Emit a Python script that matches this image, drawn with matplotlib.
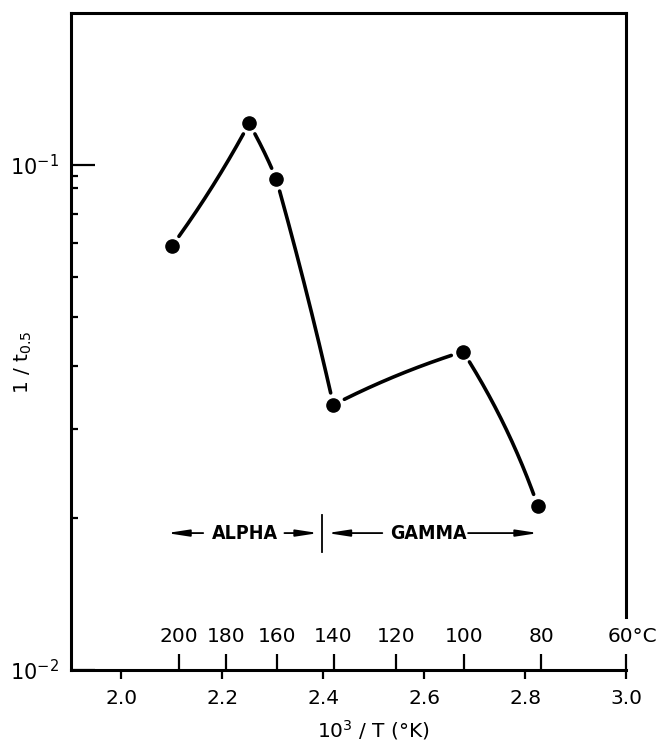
import numpy as np
import matplotlib
matplotlib.use("Agg")
import matplotlib.pyplot as plt

# ---------------- data ----------------
inv_T = [2.10, 2.253, 2.307, 2.420, 2.677, 2.825]          # 10^3 / T (1/K)
rate = [0.0691, 0.1209, 0.0937, 0.0335, 0.0427, 0.02115]   # 1 / t0.5
x_ticks = [2.0, 2.2, 2.4, 2.6, 2.8, 3.0]
x_ticklabels = ["2.0", "2.2", "2.4", "2.6", "2.8", "3.0"]
celsius = [200, 180, 160, 140, 120, 100, 80, 60]
celsius_labels = ["200", "180", "160", "140", "120", "100", "80", "60°C"]
y_major = [0.01, 0.1]
y_major_labels = [r"$10^{-2}$", r"$10^{-1}$"]
y_minor = [0.02, 0.03, 0.04, 0.05, 0.06, 0.07, 0.08, 0.09, 0.095]
regions = ["ALPHA", "GAMMA"]
region_bounds = [(2.09, 2.398), (2.398, 2.826)]

# ---------------- figure ----------------
W, H = 664, 745
fig = plt.figure(figsize=(W / 100, H / 100), dpi=100)
ax = fig.add_axes([71 / W, 75 / H, 555 / W, 657 / H])
ax.set_yscale("log")
ax.set_xlim(1.9, 3.0)
ax.set_ylim(0.01, 0.2)

FS = 14.5
for s in ax.spines.values():
    s.set_linewidth(2.2)
ax.spines["right"].set_bounds(0.01272, 0.2)

ax.set_xticks(x_ticks)
ax.set_xticklabels(x_ticklabels, fontsize=FS)
ax.tick_params(axis="x", direction="out", length=6.5, width=1.6, pad=7)
ax.set_yticks(y_major)
ax.set_yticklabels(y_major_labels, fontsize=15)
ax.set_yticks(y_minor, minor=True)
ax.yaxis.set_minor_formatter(matplotlib.ticker.NullFormatter())
ax.tick_params(axis="y", which="major", direction="in", length=17, width=1.6, pad=9)
ax.tick_params(axis="y", which="minor", direction="in", length=5, width=1.6)
ax.tick_params(axis="x", which="minor", bottom=False)

# Celsius scale along the bottom axis
xt = ax.get_xaxis_transform()
for c, lab in zip(celsius, celsius_labels):
    xc = min(1000.0 / (c + 273.15), 3.0)
    ax.plot([xc, xc], [0, 16 / 657], transform=xt, color="k", lw=1.6,
            clip_on=False, solid_capstyle="butt")
    ax.text(xc + (0.012 if c == 60 else 0.0), 33 / 657, lab, transform=xt,
            ha="center", va="center", fontsize=FS)

# ---------------- curves ----------------
bows = [-2.5, 1, 1.5, 3, 5]   # pixel bulge of each segment
gap = 12.0
fig.canvas.draw()
tr = ax.transData
pts = tr.transform(np.column_stack([inv_T, rate]))
for i in range(len(pts) - 1):
    p0, p2 = pts[i], pts[i + 1]
    d = p2 - p0
    L = np.hypot(*d)
    n = np.array([-d[1], d[0]]) / L
    p1 = (p0 + p2) / 2 + n * bows[i] * 2
    t = np.linspace(0, 1, 400)[:, None]
    curve = (1 - t) ** 2 * p0 + 2 * (1 - t) * t * p1 + t ** 2 * p2
    keep = (np.hypot(*(curve - p0).T) > gap) & (np.hypot(*(curve - p2).T) > gap)
    c = tr.inverted().transform(curve[keep])
    ax.plot(c[:, 0], c[:, 1], color="k", lw=2.6, solid_capstyle="round")

ax.plot(inv_T, rate, "o", color="k", ms=9.5, ls="none")

# ---------------- region arrows ----------------
ya = 0.01867
text_mid = [2.244, 2.608]
text_left = [0.082, 0.091]
text_right = [0.079, 0.079]
ap = dict(arrowstyle="-|>,head_length=1.3,head_width=0.2", lw=1.3,
          color="k", shrinkA=0, shrinkB=0)
for k, (name, (a, b)) in enumerate(zip(regions, region_bounds)):
    mid = text_mid[k]
    ax.text(mid, ya, name, ha="center", va="center", fontsize=14,
            fontweight="bold", fontstretch="condensed")
    ax.annotate("", xy=(a + (0.0 if k == 0 else 0.01), ya),
                xytext=(mid - text_left[k], ya), arrowprops=ap)
    ax.annotate("", xy=(b - (0.008 if k == 0 else 0.0), ya),
                xytext=(mid + text_right[k], ya), arrowprops=ap)
ax.plot([region_bounds[0][1]] * 2, [0.0171, 0.0203], color="k", lw=1.3)

# ---------------- labels ----------------
fig.text(23.5 / W, 1 - 362 / H, r"1 / t$_{\mathregular{0.5}}$", rotation=90,
         ha="center", va="center", fontsize=FS)
fig.text(373 / W, 1 - 730 / H, r"10$^{\mathregular{3}}$ / T (°K)",
         ha="center", va="center", fontsize=FS)

fig.savefig("out.png", dpi=100)
